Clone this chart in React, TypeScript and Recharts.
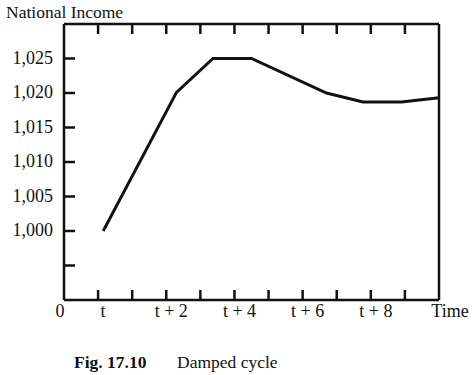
import React from 'react';
import { LineChart, Line, XAxis, YAxis } from 'recharts';

// time positions (t = 0) and national income
const times = [0.15, 2.3, 3.37, 4.5, 6.7, 7.77, 8.9, 10];
const income = [1000, 1020.1, 1025, 1025, 1020, 1018.7, 1018.7, 1019.3];

const xTicks = [-1, 0, 1, 2, 3, 4, 5, 6, 7, 8, 9, 10];
const xLabels: Record<number, string> = { [-1]: '0', 0: 't', 2: 't + 2', 4: 't + 4', 6: 't + 6', 8: 't + 8', 10: 'Time' };
const yTicks = [995, 1000, 1005, 1010, 1015, 1020, 1025];
const yLabels: Record<number, string> = { 1000: '1,000', 1005: '1,005', 1010: '1,010', 1015: '1,015', 1020: '1,020', 1025: '1,025' };

const data = times.map((t, i) => ({ time: t, income: income[i] }));

const FONT = '"Liberation Serif", "DejaVu Serif", serif';
const INK = '#111';

function BottomTick({ x, y, payload }: any) {
  const v = payload.value;
  const dx = v === -1 ? -4 : v === 10 ? 11 : 5;
  return (
    <g>
      {v >= 0 && v <= 9 && <line x1={x} y1={y} x2={x} y2={y - 10} stroke={INK} strokeWidth={2.5} />}
      <text x={x + dx} y={y + 17} textAnchor="middle" fontFamily={FONT} fontSize={18} fill={INK}>
        {xLabels[v] ?? ''}
      </text>
    </g>
  );
}

function TopTick({ x, y, payload }: any) {
  const v = payload.value;
  if (v < 0 || v > 9) return <g />;
  return <line x1={x} y1={y} x2={x} y2={y + 10} stroke={INK} strokeWidth={2.5} />;
}

function LeftTick({ x, y, payload }: any) {
  const v = payload.value;
  return (
    <g>
      <line x1={x} y1={y} x2={x + 11} y2={y} stroke={INK} strokeWidth={2.5} />
      <text x={x - 11} y={y + 5} textAnchor="end" fontFamily={FONT} fontSize={18} fill={INK}>
        {yLabels[v] ?? ''}
      </text>
    </g>
  );
}

function RightTick({ x, y }: any) {
  return <line x1={x} y1={y} x2={x - 11} y2={y} stroke={INK} strokeWidth={2.5} />;
}

export default function App() {
  return (
    <div style={{ position: 'absolute', left: 0, top: 0, width: 473, height: 375, background: '#fff' }}>
      <LineChart width={473} height={375} data={data} margin={{ top: 23, right: 33, bottom: 74, left: 63 }}>
        <XAxis
          dataKey="time"
          type="number"
          domain={[-1, 10]}
          ticks={xTicks}
          interval={0}
          height={1}
          tickSize={0}
          tickMargin={0}
          tickLine={false}
          tick={BottomTick}
          axisLine={{ stroke: INK, strokeWidth: 2.5 }}
        />
        <XAxis
          xAxisId="top"
          orientation="top"
          dataKey="time"
          type="number"
          domain={[-1, 10]}
          ticks={xTicks}
          interval={0}
          height={1}
          tickSize={0}
          tickMargin={0}
          tickLine={false}
          tick={TopTick}
          axisLine={{ stroke: INK, strokeWidth: 2.5 }}
        />
        <YAxis
          type="number"
          domain={[990, 1030]}
          ticks={yTicks}
          interval={0}
          width={1}
          tickSize={0}
          tickMargin={0}
          tickLine={false}
          tick={LeftTick}
          axisLine={{ stroke: INK, strokeWidth: 2.5 }}
        />
        <YAxis
          yAxisId="right"
          orientation="right"
          type="number"
          domain={[990, 1030]}
          ticks={yTicks}
          interval={0}
          width={1}
          tickSize={0}
          tickMargin={0}
          tickLine={false}
          tick={RightTick}
          axisLine={{ stroke: INK, strokeWidth: 2.5 }}
        />
        <Line
          type="linear"
          dataKey="income"
          stroke={INK}
          strokeWidth={3}
          dot={false}
          isAnimationActive={false}
        />
      </LineChart>
      <svg width={473} height={375} style={{ position: 'absolute', left: 0, top: 0, pointerEvents: 'none' }}>
        <text x={6} y={18} fontFamily={FONT} fontSize={17.5} fill={INK}>National Income</text>
        <text x={74} y={368} fontFamily={FONT} fontSize={17.5} fontWeight="bold" fill={INK}>Fig. 17.10</text>
        <text x={177} y={368} fontFamily={FONT} fontSize={17.5} fill={INK}>Damped cycle</text>
      </svg>
    </div>
  );
}
